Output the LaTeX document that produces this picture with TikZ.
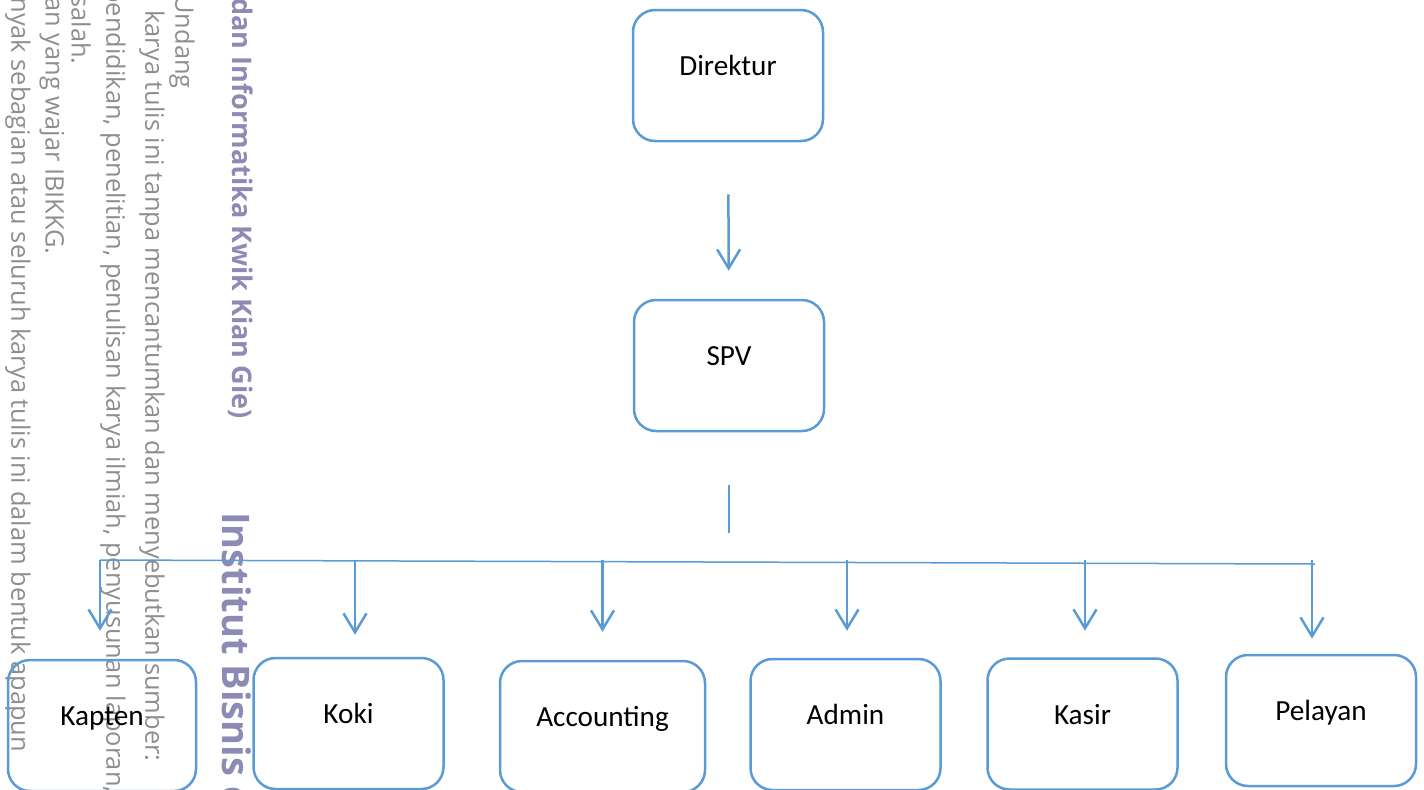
\documentclass[tikz,border=0pt]{standalone}
\usepackage{fontspec}
\setmainfont{Carlito}
\newfontfamily\wmfont{Open Sans}
\usetikzlibrary{arrows.meta,positioning}
\definecolor{boxblue}{HTML}{5B9BD5}
\definecolor{wmgray}{HTML}{8E8E8E}
\definecolor{wmpurple}{HTML}{8D8BB5}

\begin{document}
\begin{tikzpicture}[x=0.5pt,y=-0.5pt,
  box/.style={draw=boxblue,line width=1.25pt,rounded corners=11pt,minimum width=95pt,minimum height=65.5pt,text height=10pt,text depth=10pt,inner sep=0pt,font=\fontsize{14.6}{17}\selectfont},
  arr/.style={draw=boxblue,line width=1.25pt,-{Straight Barb[length=9.5pt,width=11.5pt]}},
  wm/.style={inner sep=0pt,rotate=-90,anchor=west,text=wmgray,font=\wmfont\fontsize{12.7}{15}\selectfont},
  wmb/.style={wm,text=wmpurple,font=\wmfont\bfseries\fontsize{13.5}{16}\selectfont}]

\useasboundingbox (0,0) rectangle (1424,789);
\clip (0,0) rectangle (1424,789);

% watermark
\node[wm] (w1) at (182,-5) {Undang};
\node[wm] (w2) at (152,10) {karya tulis ini tanpa mencantumkan dan menyebutkan sumber:};
\node[wm] (w3) at (113,-13) {pendidikan, penelitian, penulisan karya ilmiah, penyusunan laporan,};
\node[wm] (w4) at (81,-5) {salah.};
\node[wm] (w5) at (52,-3) {an yang wajar IBIKKG.};
\node[wm] (w6) at (18,-3) {nyak sebagian atau seluruh karya tulis ini dalam bentuk apapun};
\node[wmb] (w7) at (241,-2) {dan Informatika Kwik Kian Gie)};
\node[wmb,font=\wmfont\bfseries\fontsize{19}{22}\selectfont] (w8) at (237,512) {Institut Bisnis dan};

% boxes
\node[box] (dir) at (728,75.5) {Direktur};
\node[box] (spv) at (729,365.5) {SPV};
\node[box,minimum width=94pt] (kap) at (102,725.5) {Kapten};
\node[box] (kok) at (348.5,723.5) {Koki};
\node[box,minimum width=102.5pt] (acc) at (602.5,726.5) {Accounting};
\node[box] (adm) at (845.5,724.5) {Admin};
\node[box] (kas) at (1082.5,724) {Kasir};
\node[box] (pel) at (1321,720.5) {Pelayan};

\draw[arr,shorten <=26pt,shorten >=14pt] (dir) -- (spv);

\coordinate (stem) at (729,533);
\draw[boxblue,line width=0.6pt,shorten <=26.5pt] (spv) -- (stem);

\coordinate (busL) at (100,560);
\coordinate (busR) at (1315,564);
\draw[boxblue,line width=0.75pt] (busL) -- (busR);

\foreach \n/\dx/\sh in {kap/-1/14,kok/3.25/11,acc/0/14,adm/0.75/13.5,kas/1.25/13.25,pel/-4.5/7.5}
  \draw[arr,shorten >=\sh pt] ([xshift=\dx pt]\n.north |- busL) -- ([xshift=\dx pt]\n.north);
\end{tikzpicture}
\end{document}
